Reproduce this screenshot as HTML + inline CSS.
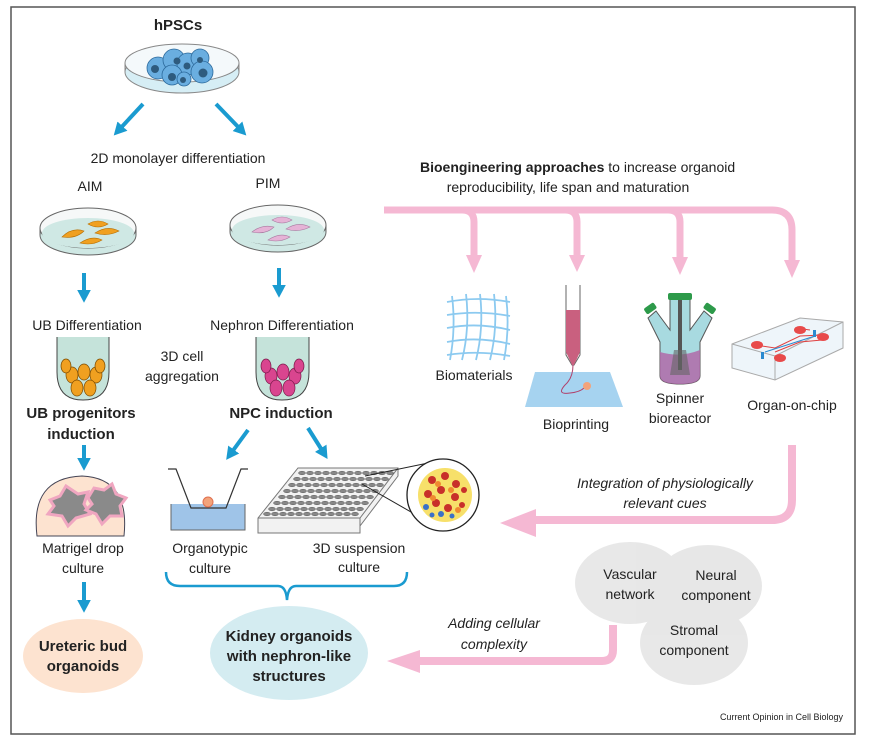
<!DOCTYPE html>
<html><head><meta charset="utf-8"><style>
html,body{margin:0;padding:0;background:#fff}
svg{display:block}
text{font-family:"Liberation Sans",sans-serif;fill:#222}
</style></head><body>
<svg width="869" height="749" viewBox="0 0 869 749" xmlns="http://www.w3.org/2000/svg">
<defs>
<marker id="ba" markerWidth="4" markerHeight="4" refX="2" refY="2" orient="auto" markerUnits="strokeWidth"><path d="M0,0.3 L3.2,2 L0,3.7z" fill="#1a9bd0"/></marker>
<g id="row" fill="#888" stroke="#444" stroke-width="0.4"><ellipse cx="0" cy="0" rx="3.5" ry="1.8"/><ellipse cx="8" cy="0" rx="3.5" ry="1.8"/><ellipse cx="16" cy="0" rx="3.5" ry="1.8"/><ellipse cx="24" cy="0" rx="3.5" ry="1.8"/><ellipse cx="32" cy="0" rx="3.5" ry="1.8"/><ellipse cx="40" cy="0" rx="3.5" ry="1.8"/><ellipse cx="48" cy="0" rx="3.5" ry="1.8"/><ellipse cx="56" cy="0" rx="3.5" ry="1.8"/><ellipse cx="64" cy="0" rx="3.5" ry="1.8"/><ellipse cx="72" cy="0" rx="3.5" ry="1.8"/><ellipse cx="80" cy="0" rx="3.5" ry="1.8"/><ellipse cx="88" cy="0" rx="3.5" ry="1.8"/></g>
</defs>
<rect x="11" y="7" width="844" height="727" fill="#fff" stroke="#555" stroke-width="1.5"/>

<!-- hPSCs -->
<text x="178" y="30" font-size="15" font-weight="bold" text-anchor="middle">hPSCs</text>
<ellipse cx="182" cy="72" rx="57" ry="21" fill="#d6eef5" stroke="#888"/>
<ellipse cx="182" cy="63" rx="57" ry="19" fill="#f4f9fb" stroke="#888"/>
<path d="M125,63 L125,72 M239,63 L239,72" stroke="#888"/>
<g fill="#6aaee0" stroke="#2c6a9c" stroke-width="0.8">
<circle cx="158" cy="68" r="11"/><circle cx="174" cy="60" r="11"/><circle cx="188" cy="64" r="11"/><circle cx="200" cy="58" r="9"/><circle cx="202" cy="72" r="11"/><circle cx="172" cy="75" r="10"/><circle cx="184" cy="79" r="7"/>
</g>
<g fill="#2e5b7e"><circle cx="155" cy="69" r="4"/><circle cx="177" cy="61" r="3.5"/><circle cx="187" cy="66" r="3.5"/><circle cx="200" cy="60" r="3"/><circle cx="203" cy="73" r="4.5"/><circle cx="172" cy="77" r="4"/><circle cx="183" cy="80" r="3"/></g>

<g stroke="#1a9bd0" stroke-width="4" fill="none" marker-end="url(#ba)">
<line x1="143" y1="104" x2="117" y2="132"/>
<line x1="216" y1="104" x2="243" y2="132"/>
<line x1="84" y1="273" x2="84" y2="298"/>
<line x1="279" y1="268" x2="279" y2="293"/>
<line x1="84" y1="445" x2="84" y2="466"/>
<line x1="84" y1="582" x2="84" y2="608"/>
<line x1="248" y1="430" x2="229" y2="456"/>
<line x1="308" y1="428" x2="325" y2="455"/>
</g>
<text x="178" y="163" font-size="14" text-anchor="middle">2D monolayer differentiation</text>
<text x="90" y="191" font-size="14" text-anchor="middle">AIM</text>
<text x="268" y="188" font-size="14" text-anchor="middle">PIM</text>

<ellipse cx="88" cy="235" rx="48" ry="20" fill="#cfe8e4" stroke="#666"/>
<ellipse cx="88" cy="228" rx="48" ry="20" fill="#f6f8f8" stroke="#666"/>
<ellipse cx="88" cy="233" rx="46" ry="15" fill="#cfe8e4"/>
<path d="M40,228 L40,235 M136,228 L136,235" stroke="#666"/>
<g fill="#f0a020" stroke="#b66d00" stroke-width="0.6">
<path d="M62,237 q10,-10 22,-6 q-8,8 -22,6z"/><path d="M88,224 q10,-6 20,0 q-10,6 -20,0z"/><path d="M95,233 q12,-8 24,-2 q-12,6 -24,2z"/><path d="M80,243 q12,-8 22,-3 q-10,6 -22,3z"/>
</g>
<ellipse cx="278" cy="232" rx="48" ry="20" fill="#cfe8e4" stroke="#666"/>
<ellipse cx="278" cy="225" rx="48" ry="20" fill="#f6f8f8" stroke="#666"/>
<ellipse cx="278" cy="230" rx="46" ry="15" fill="#cfe8e4"/>
<path d="M230,225 L230,232 M326,225 L326,232" stroke="#666"/>
<g fill="#e5b3d6" stroke="#a87aa0" stroke-width="0.6">
<path d="M252,232 q10,-8 22,-5 q-8,8 -22,5z"/><path d="M272,220 q10,-6 20,0 q-10,6 -20,0z"/><path d="M286,229 q12,-8 24,-2 q-12,6 -24,2z"/><path d="M268,240 q12,-8 22,-3 q-10,6 -22,3z"/>
</g>

<text x="87" y="330" font-size="14" text-anchor="middle">UB Differentiation</text>
<text x="282" y="330" font-size="14" text-anchor="middle">Nephron Differentiation</text>

<path d="M57,337 L57,372 Q57,400 83,400 Q109,400 109,372 L109,337" fill="#c5e3da" stroke="#444"/>
<g fill="#f0a020" stroke="#7a4a00" stroke-width="0.7">
<ellipse cx="72" cy="375" rx="6" ry="8"/><ellipse cx="84" cy="372" rx="6" ry="8"/><ellipse cx="96" cy="375" rx="6" ry="8"/><ellipse cx="77" cy="388" rx="6" ry="8"/><ellipse cx="90" cy="388" rx="6" ry="8"/><ellipse cx="100" cy="366" rx="5" ry="7"/><ellipse cx="66" cy="366" rx="5" ry="7"/>
</g>
<path d="M256,337 L256,372 Q256,400 282,400 Q309,400 309,372 L309,337" fill="#c5e3da" stroke="#444"/>
<g fill="#d9458f" stroke="#7a1a4a" stroke-width="0.7">
<ellipse cx="271" cy="376" rx="6" ry="8"/><ellipse cx="283" cy="372" rx="6" ry="8"/><ellipse cx="295" cy="376" rx="6" ry="8"/><ellipse cx="276" cy="388" rx="6" ry="8"/><ellipse cx="289" cy="388" rx="6" ry="8"/><ellipse cx="299" cy="366" rx="5" ry="7"/><ellipse cx="266" cy="366" rx="5" ry="7"/>
</g>
<text x="182" y="361" font-size="14" text-anchor="middle">3D cell</text>
<text x="182" y="381" font-size="14" text-anchor="middle">aggregation</text>

<text x="81" y="418" font-size="15" font-weight="bold" text-anchor="middle">UB progenitors</text>
<text x="81" y="439" font-size="15" font-weight="bold" text-anchor="middle">induction</text>
<text x="281" y="418" font-size="15" font-weight="bold" text-anchor="middle">NPC induction</text>

<path d="M37,536 Q30,478 82,476 Q130,478 124,536 Z" fill="#fde3d0" stroke="#445"/>
<path d="M50,500 l10,-4 l6,-10 l12,8 l10,-2 l-4,12 l6,10 l-14,4 l-8,8 l-6,-10 l-14,-2 l6,-8z" fill="#8a8a8a" stroke="#f0a6c0" stroke-width="3"/>
<path d="M88,498 l6,-10 l10,2 l8,-6 l4,10 l10,4 l-6,8 l2,10 l-12,0 l-8,8 l-6,-10 l-10,-4 l6,-6z" fill="#8a8a8a" stroke="#f0a6c0" stroke-width="3"/>
<text x="83" y="553" font-size="14" text-anchor="middle">Matrigel drop</text>
<text x="83" y="573" font-size="14" text-anchor="middle">culture</text>

<ellipse cx="83" cy="656" rx="60" ry="37" fill="#fde3d0"/>
<text x="83" y="651" font-size="15" text-anchor="middle" style="font-weight:600">Ureteric bud</text>
<text x="83" y="671" font-size="15" text-anchor="middle" style="font-weight:600">organoids</text>

<rect x="171" y="504" width="74" height="26" fill="#9fc4e8"/>
<path d="M168,469 L176,469 L191,508 L226,508 L241,469 L248,469" fill="none" stroke="#333" stroke-width="1.2"/>
<path d="M171,504 L171,530 L245,530 L245,504" fill="none" stroke="#666"/>
<circle cx="208" cy="502" r="5" fill="#f3a37a" stroke="#e07050"/>
<text x="210" y="553" font-size="14" text-anchor="middle">Organotypic</text>
<text x="210" y="573" font-size="14" text-anchor="middle">culture</text>

<path d="M258,518 L298,468 L398,468 L398,476 L360,526 L360,533 L258,533 Z" fill="#f2f2f2" stroke="#777"/>
<path d="M258,518 L360,518 L398,468 M360,518 L360,533" fill="none" stroke="#777"/>
<use href="#row" transform="translate(302,473)"/><use href="#row" transform="translate(297,479)"/><use href="#row" transform="translate(292,485)"/><use href="#row" transform="translate(287,491)"/><use href="#row" transform="translate(282,497)"/><use href="#row" transform="translate(277,503)"/><use href="#row" transform="translate(272,509)"/><use href="#row" transform="translate(267,514)"/>
<path d="M365,476 L433,462 M362,484 L425,520" stroke="#222" fill="none"/>
<circle cx="443" cy="495" r="36" fill="#fff" stroke="#222" stroke-width="1.3"/>
<circle cx="445" cy="495" r="27" fill="#f7e06a"/>
<g fill="#c8302a"><circle cx="432" cy="480" r="4"/><circle cx="445" cy="476" r="4"/><circle cx="456" cy="484" r="4"/><circle cx="428" cy="494" r="4"/><circle cx="441" cy="490" r="4"/><circle cx="455" cy="497" r="4"/><circle cx="464" cy="490" r="3"/><circle cx="436" cy="503" r="4"/><circle cx="448" cy="508" r="4"/><circle cx="462" cy="505" r="3"/></g>
<g fill="#f08a30"><circle cx="438" cy="484" r="3"/><circle cx="451" cy="490" r="3"/><circle cx="433" cy="498" r="3"/><circle cx="458" cy="510" r="3"/></g>
<g fill="#3a70c8"><circle cx="426" cy="507" r="3"/><circle cx="441" cy="514" r="3"/><circle cx="432" cy="515" r="2.5"/><circle cx="452" cy="516" r="2.5"/></g>
<text x="359" y="553" font-size="14" text-anchor="middle">3D suspension</text>
<text x="359" y="572" font-size="14" text-anchor="middle">culture</text>

<path d="M166,572 Q166,586 180,586 L278,586 Q286,586 287,600 Q288,586 296,586 L394,586 Q407,586 407,572" fill="none" stroke="#1a9bd0" stroke-width="2.5"/>

<ellipse cx="289" cy="653" rx="79" ry="47" fill="#d4ecf1"/>
<text x="289" y="641" font-size="15" text-anchor="middle" style="font-weight:600">Kidney organoids</text>
<text x="289" y="661" font-size="15" text-anchor="middle" style="font-weight:600">with nephron-like</text>
<text x="289" y="681" font-size="15" text-anchor="middle" style="font-weight:600">structures</text>

<text x="420" y="172" font-size="14"><tspan style="font-weight:600">Bioengineering approaches</tspan> to increase organoid</text>
<text x="568" y="192" font-size="14" text-anchor="middle">reproducibility, life span and maturation</text>
<g fill="none" stroke="#f5b8d3" stroke-width="7">
<path d="M384,210 L772,210 Q792,210 792,230 L792,262"/>
<path d="M462,210 Q474,210 474,222 L474,256"/>
<path d="M565,210 Q577,210 577,222 L577,256"/>
<path d="M668,210 Q680,210 680,222 L680,258"/>
</g>
<g fill="#f5b8d3">
<path d="M466,255 L482,255 L474,273z"/><path d="M569,255 L585,255 L577,272z"/><path d="M672,257 L688,257 L680,275z"/><path d="M784,260 L800,260 L792,278z"/>
</g>

<g fill="none" stroke="#8ccaf0" stroke-width="1.8">
<path d="M447,302 Q478,296 510,302"/><path d="M447,315 Q478,310 510,316"/><path d="M447,328 Q478,322 510,330"/><path d="M447,342 Q478,336 510,344"/><path d="M447,355 Q478,350 510,356"/>
<path d="M452,296 Q456,328 450,360"/><path d="M466,294 Q470,328 462,360"/><path d="M480,294 Q484,328 476,360"/><path d="M494,294 Q498,328 490,360"/><path d="M506,296 Q510,328 504,360"/>
</g>
<text x="474" y="380" font-size="14" text-anchor="middle">Biomaterials</text>

<path d="M535,372 L610,372 L623,407 L525,407Z" fill="#a6d3f0"/>
<path d="M566,285 L566,355 L572,365 L574,365 L580,355 L580,285" fill="#fff" stroke="#666"/>
<path d="M566,310 L580,310 L580,352 L574,365 L572,365 L566,352Z" fill="#c9607f"/>
<path d="M573,365 Q573,378 565,385 Q556,395 570,393 Q580,392 584,388" fill="none" stroke="#b0406a" stroke-width="1"/>
<circle cx="587" cy="386" r="4" fill="#f3a37a"/>
<text x="576" y="429" font-size="14" text-anchor="middle">Bioprinting</text>

<path d="M656,311 L670,330 L670,296 L690,296 L690,330 L704,311 L712,318 L700,342 L700,376 Q700,384 680,384 Q660,384 660,376 L660,342 L648,318 Z" fill="#a8dae0" stroke="#555"/>
<path d="M660,352 Q680,358 700,350 L700,376 Q700,384 680,384 Q660,384 660,376Z" fill="#b06aa8" opacity="0.85"/>
<rect x="678" y="300" width="4" height="70" fill="#555"/>
<path d="M674,350 L686,350 L690,375 L670,375Z" fill="#666" opacity="0.6"/>
<rect x="668" y="293" width="24" height="7" rx="2" fill="#2d9a4a"/>
<rect x="644" y="305" width="12" height="7" rx="2" fill="#2d9a4a" transform="rotate(-35 650 308)"/>
<rect x="704" y="305" width="12" height="7" rx="2" fill="#2d9a4a" transform="rotate(35 710 308)"/>
<text x="680" y="403" font-size="14" text-anchor="middle">Spinner</text>
<text x="680" y="423" font-size="14" text-anchor="middle">bioreactor</text>

<path d="M732,344 L800,318 L843,322 L843,348 L775,380 L732,368Z" fill="#eef5fa" stroke="#aaa"/>
<path d="M732,344 L775,356 L843,322 M775,356 L775,380" fill="none" stroke="#aaa"/>
<path d="M755,345 L775,348 L800,336 L822,335 M795,328 L810,330 M775,352 L800,342 L822,340" stroke="#e04040" fill="none"/>
<line x1="765" y1="352" x2="815" y2="336" stroke="#2a8ad0"/>
<g fill="#e84a4a"><ellipse cx="757" cy="345" rx="6" ry="4"/><ellipse cx="800" cy="330" rx="6" ry="4"/><ellipse cx="823" cy="337" rx="6" ry="4"/><ellipse cx="780" cy="358" rx="6" ry="4"/></g>
<rect x="813" y="330" width="3" height="7" fill="#2a8ad0"/><rect x="761" y="352" width="3" height="7" fill="#2a8ad0"/>
<text x="792" y="410" font-size="14" text-anchor="middle">Organ-on-chip</text>

<path d="M792,445 L792,500 Q792,520 772,520 L534,520" fill="none" stroke="#f5b8d3" stroke-width="8"/>
<path d="M536,509 L536,537 L500,523Z" fill="#f5b8d3"/>
<text x="665" y="488" font-size="14" font-style="italic" text-anchor="middle">Integration of physiologically</text>
<text x="665" y="508" font-size="14" font-style="italic" text-anchor="middle">relevant cues</text>

<g fill="#d8d8d8" opacity="0.6">
<ellipse cx="630" cy="583" rx="55" ry="41"/>
<ellipse cx="708" cy="586" rx="54" ry="41"/>
<ellipse cx="694" cy="643" rx="54" ry="42"/>
</g>
<text x="630" y="579" font-size="14" text-anchor="middle">Vascular</text>
<text x="630" y="599" font-size="14" text-anchor="middle">network</text>
<text x="716" y="580" font-size="14" text-anchor="middle">Neural</text>
<text x="716" y="600" font-size="14" text-anchor="middle">component</text>
<text x="694" y="635" font-size="14" text-anchor="middle">Stromal</text>
<text x="694" y="655" font-size="14" text-anchor="middle">component</text>

<path d="M613,625 L613,650 Q613,661 602,661 L420,661" fill="none" stroke="#f5b8d3" stroke-width="8"/>
<path d="M420,650 L420,673 L387,661Z" fill="#f5b8d3"/>
<text x="494" y="628" font-size="14" font-style="italic" text-anchor="middle">Adding cellular</text>
<text x="494" y="649" font-size="14" font-style="italic" text-anchor="middle">complexity</text>

<text x="843" y="720" font-size="9" text-anchor="end">Current Opinion in Cell Biology</text>
</svg>
</body></html>
